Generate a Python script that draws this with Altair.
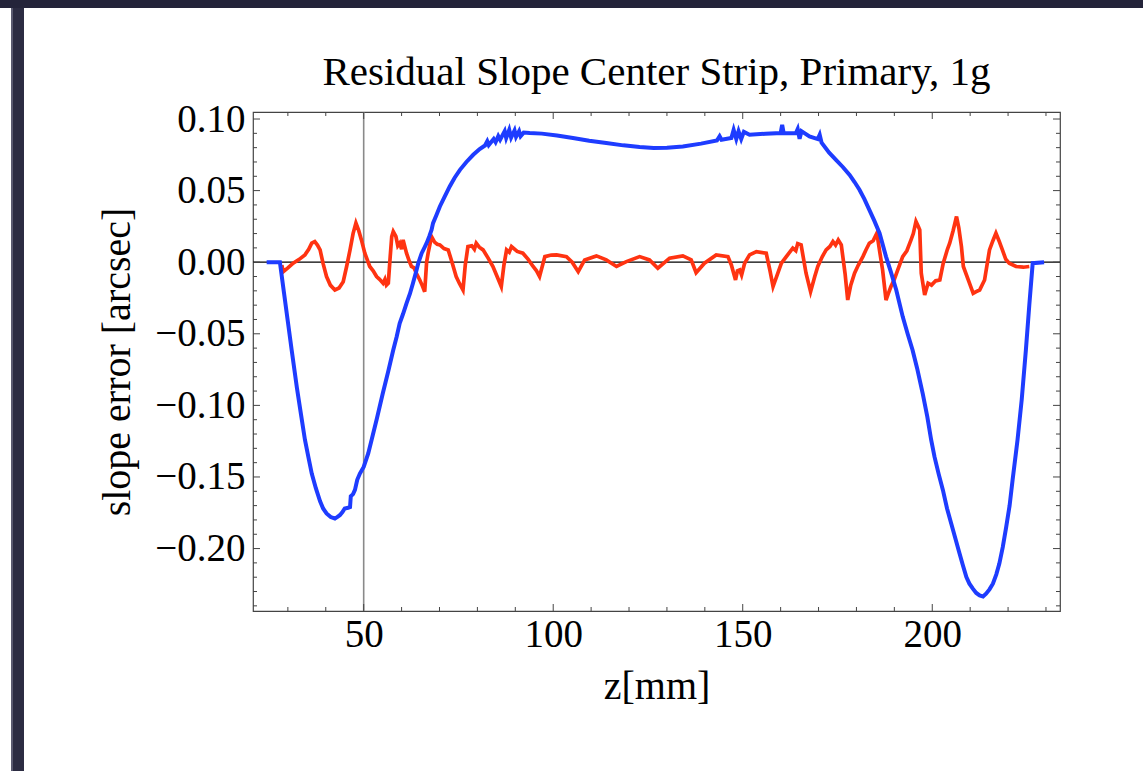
import altair as alt
import pandas as pd

# ---------------- data ----------------
blue_z = [24.4, 27.9, 29.0, 30.0, 31.0, 32.4, 33.5, 34.5, 35.4, 36.3, 37.4, 38.5, 39.3, 40.2, 41.3,
          42.4, 43.0, 43.7, 44.4, 45.0, 45.9, 46.4, 46.6, 47.2, 47.7, 48.3, 49.0, 50.0, 51.2, 52.1,
          53.5, 55.0, 56.5, 57.8, 58.7, 59.5, 60.4, 61.3, 62.2, 63.0, 63.7, 64.4, 65.3, 66.0, 66.6,
          67.3, 67.9, 68.3, 69.2, 70.1, 71.4, 72.7, 74.0, 75.4, 77.1, 78.9, 80.6, 82.0, 82.6, 83.0,
          84.3, 84.8, 85.5, 86.0, 87.2, 87.6, 88.4, 88.9, 89.8, 90.2, 91.0, 91.4, 92.2, 93.8, 97.0,
          101.0, 105.2, 109.5, 114.0, 118.5, 122.8, 126.5, 130.0, 134.2, 139.0, 143.2, 143.9, 144.4,
          147.0, 147.6, 148.3, 148.9, 149.6, 150.3, 151.8, 156.0, 160.0, 160.4, 160.8, 164.0, 164.5,
          165.0, 165.5, 167.6, 169.8, 170.3, 170.8, 172.8, 174.6, 176.4, 178.2, 179.5, 180.8, 182.1,
          183.4, 184.7, 186.1, 187.8, 189.1, 190.5, 192.2, 193.5, 194.8, 196.0, 197.5, 198.7, 199.7,
          200.6, 201.7, 202.8, 203.9, 205.0, 206.1, 207.2, 208.0, 209.0, 209.8, 210.7, 211.6, 212.5,
          213.4, 214.2, 215.1, 216.0, 216.9, 217.7, 218.6, 219.5, 220.4, 221.2, 222.5, 223.6, 224.7,
          225.6, 226.5, 229.5]
blue_v = [0.0, 0.0, -0.0218, -0.0416, -0.0613, -0.088, -0.107, -0.124, -0.136, -0.1476, -0.158,
          -0.167, -0.172, -0.1755, -0.178, -0.179, -0.178, -0.1767, -0.1745, -0.172, -0.1715, -0.171,
          -0.1634, -0.162, -0.159, -0.152, -0.1476, -0.143, -0.1336, -0.124, -0.109, -0.092, -0.076,
          -0.0613, -0.052, -0.0427, -0.036, -0.0287, -0.022, -0.0147, -0.008, -0.0007, 0.0063, 0.010,
          0.0133, 0.018, 0.0226, 0.0273, 0.033, 0.0389, 0.046, 0.0529, 0.059, 0.0645, 0.070, 0.075,
          0.079, 0.0815, 0.0845, 0.0818, 0.0860, 0.0838, 0.0880, 0.0855, 0.0915, 0.0868, 0.0925,
          0.0870, 0.0920, 0.0875, 0.0915, 0.0880, 0.0905, 0.0902, 0.0898, 0.0885, 0.0867, 0.0848,
          0.0832, 0.0816, 0.0804, 0.0797, 0.0800, 0.0808, 0.0828, 0.0850, 0.0880, 0.0855, 0.0868,
          0.0925, 0.0860, 0.0915, 0.0860, 0.0910, 0.0890, 0.0897, 0.0902, 0.0960, 0.0902, 0.0900,
          0.0930, 0.0862, 0.0915, 0.0878, 0.0860, 0.0890, 0.0835, 0.0765, 0.0715, 0.0665, 0.061,
          0.056, 0.0506, 0.044, 0.0366, 0.029, 0.0203, 0.0039, -0.007, -0.0194, -0.038, -0.050,
          -0.0613, -0.074, -0.092, -0.108, -0.124, -0.136, -0.148, -0.159, -0.172, -0.1825, -0.193,
          -0.2035, -0.211, -0.2199, -0.2245, -0.228, -0.231, -0.2327, -0.2335, -0.2315, -0.2285,
          -0.2245, -0.218, -0.2105, -0.199, -0.185, -0.170, -0.152, -0.124, -0.096, -0.0613, -0.030,
          -0.0007, 0.0]

red_z = [28.4, 28.8, 30.0, 31.4, 33.0, 34.5, 35.5, 36.3, 37.1, 37.8, 38.5, 39.3, 40.2, 41.2, 42.4,
         43.5, 44.6, 45.5, 46.4, 47.2, 47.95, 48.7, 49.4, 50.3, 51.6, 52.5, 53.4, 54.2, 55.1, 55.6,
         56.0, 56.5, 57.0, 57.4, 57.8, 58.5, 59.0, 59.5, 60.0, 60.4, 61.3, 62.0, 62.6, 63.3, 63.9,
         64.8, 65.4, 66.1, 66.6, 67.0, 67.9, 68.7, 69.4, 70.1, 71.2, 72.3, 73.3, 74.4, 75.3, 76.2,
         76.8, 77.5, 78.5, 79.2, 79.7, 80.5, 81.5, 82.8, 84.1, 85.2, 86.3, 87.0, 87.7, 88.4, 89.0,
         90.5, 92.0, 93.4, 94.7, 95.6, 96.4, 97.8, 99.5, 100.9, 103.5, 105.0, 106.6, 108.3, 111.4,
         114.0, 116.7, 119.3, 122.8, 125.4, 127.6, 130.7, 134.2, 136.4, 137.7, 139.9, 143.0, 146.1,
         147.0, 148.1, 148.6, 149.2, 149.7, 150.5, 151.8, 153.6, 156.2, 157.2, 158.0, 160.2, 161.8,
         163.2, 164.0, 164.5, 165.4, 166.7, 167.9, 169.0, 169.8, 171.0, 172.0, 173.0, 173.8, 174.5,
         175.2, 176.0, 177.0, 177.7, 178.5, 179.5, 180.5, 181.7, 182.5, 183.4, 184.4, 185.4, 186.1,
         186.9, 187.8, 188.4, 189.1, 190.0, 190.9, 192.2, 193.3, 194.4, 195.0, 195.7, 196.3, 196.7,
         197.1, 198.0, 198.9, 199.8, 200.9, 202.0, 202.9, 204.0, 204.6, 205.5, 206.4, 207.0, 207.7,
         208.2, 209.5, 210.8, 211.6, 212.5, 213.8, 215.1, 216.0, 216.8, 217.6, 218.5, 219.4, 220.3,
         222.1, 224.0, 225.6]
red_v = [-0.002, -0.0066, -0.004, -0.0007, 0.002, 0.0051, 0.009, 0.0133, 0.0144, 0.012, 0.0086,
         -0.001, -0.010, -0.016, -0.0194, -0.018, -0.0136, -0.003, 0.0086, 0.020, 0.0273, 0.022,
         0.0156, 0.0063, -0.003, -0.006, -0.010, -0.012, -0.0147, -0.012, -0.016, -0.0147, 0.004,
         0.0179, 0.0214, 0.018, 0.0115, 0.0133, 0.009, 0.0156, 0.0063, 0.001, -0.003, -0.004, -0.0077,
         -0.0124, -0.016, -0.0206, 0.000, 0.0063, 0.0179, 0.014, 0.0125, 0.0121, 0.0095, 0.0086,
         0.000, -0.010, -0.015, -0.0194, -0.002, 0.0109, 0.0115, 0.0090, 0.0133, 0.0105, 0.0086,
         0.003, -0.003, -0.010, -0.017, -0.002, 0.0086, 0.0070, 0.0109, 0.0075, 0.0063, 0.002,
         -0.003, -0.006, -0.010, 0.0039, 0.005, 0.0051, 0.0039, 0.000, -0.0066, 0.0016, 0.0044,
         0.0016, -0.003, 0.0004, 0.0039, 0.0016, -0.0042, 0.0028, 0.0044, 0.0016, -0.0073, -0.0007,
         0.0051, 0.0039, -0.0019, -0.0124, -0.006, -0.0054, -0.009, -0.0007, 0.0051, 0.0074, 0.0063,
         -0.006, -0.017, -0.0007, 0.005, 0.0098, 0.008, 0.013, 0.0121, -0.0077, -0.0206, -0.010,
         -0.003, 0.004, 0.0086, 0.011, 0.0144, 0.012, 0.0155, 0.0121, -0.008, -0.0264, -0.016,
         -0.0077, -0.002, 0.0039, 0.0085, 0.0133, 0.0150, 0.0203, 0.008, -0.0054, -0.0264, -0.022,
         -0.017, -0.012, -0.0054, 0.0039, 0.008, 0.0156, 0.020, 0.0284, 0.025, 0.0226, -0.0077,
         -0.0229, -0.0147, -0.016, -0.013, -0.0124, -0.0007, 0.009, 0.0133, 0.022, 0.0319, 0.024,
         0.0109, -0.003, -0.0124, -0.0217, -0.0205, -0.0194, -0.0124, 0.0086, 0.015, 0.0203, 0.015,
         0.0086, 0.002, -0.0007, -0.003, -0.0035, -0.003]

x_major = [50, 100, 150, 200]
x_minor = [30, 40, 60, 70, 80, 90, 110, 120, 130, 140, 160, 170, 180, 190, 210, 220, 230]
y_major = [-0.20, -0.15, -0.10, -0.05, 0.00, 0.05, 0.10]
y_minor = [-0.24, -0.23, -0.22, -0.21, -0.19, -0.18, -0.17, -0.16, -0.14, -0.13, -0.12, -0.11,
           -0.09, -0.08, -0.07, -0.06, -0.04, -0.03, -0.02, -0.01, 0.01, 0.02, 0.03, 0.04,
           0.06, 0.07, 0.08, 0.09]
grid_x = [50]
zero_y = [0.0]

title_text = "Residual Slope Center Strip, Primary, 1g"
x_title = "z[mm]"
y_title = "slope error [arcsec]"

# ---------------- layout ----------------
W, H = 807, 499
PAD = {"left": 253, "top": 112, "right": 83, "bottom": 160}
FONT = "Liberation Serif"
xs = alt.Scale(domain=[20.8, 233.7], nice=False, zero=False)
ys = alt.Scale(domain=[-0.2436, 0.1049], nice=False, zero=False)
TICK = "#444444"
MAJ, MIN = 7, 4

blue_df = pd.DataFrame({"z": blue_z, "v": blue_v})
red_df = pd.DataFrame({"z": red_z, "v": red_v})

x_axis = alt.Axis(values=x_major, format="d", ticks=False, domain=False, grid=False,
                  labelFont=FONT, labelFontSize=39, labelColor="black", labelPadding=4,
                  title=x_title, titleFont=FONT, titleFontSize=40, titleFontWeight="normal",
                  titleColor="black", titleBaseline="alphabetic", titleY=87)
y_axis = alt.Axis(values=y_major, format=".2f", ticks=False, domain=False, grid=False,
                  labelFont=FONT, labelFontSize=39, labelColor="black", labelPadding=8,
                  title=y_title, titleFont=FONT, titleFontSize=40, titleFontWeight="normal",
                  titleColor="black", titleBaseline="alphabetic", titleX=-124)


def X(field="z"):
    return alt.X(f"{field}:Q", scale=xs, axis=x_axis)


def Y(field="v"):
    return alt.Y(f"{field}:Q", scale=ys, axis=y_axis)


grid = alt.Chart(pd.DataFrame({"z": grid_x})).mark_rule(color="#8a8a8a", strokeWidth=1.6).encode(
    x=X(), y=alt.value(0), y2=alt.value(H))
zero = alt.Chart(pd.DataFrame({"v": zero_y})).mark_rule(color="black", strokeWidth=1.2).encode(
    y=Y(), x=alt.value(0), x2=alt.value(W))

red = alt.Chart(red_df).mark_line(color="#ff3311", strokeWidth=3.7, strokeJoin="miter").encode(
    x=X(), y=Y(), order="z:Q")
blue = alt.Chart(blue_df).mark_line(color="#1e3cff", strokeWidth=4, strokeJoin="miter").encode(
    x=X(), y=Y(), order="z:Q")


def xticks(vals, length):
    d = pd.DataFrame({"z": vals})
    bottom = alt.Chart(d).mark_rule(color=TICK, strokeWidth=1).encode(
        x=X(), y=alt.value(H), y2=alt.value(H - length))
    top = alt.Chart(d).mark_rule(color=TICK, strokeWidth=1).encode(
        x=X(), y=alt.value(0), y2=alt.value(length))
    return [bottom, top]


def yticks(vals, length):
    d = pd.DataFrame({"v": vals})
    left = alt.Chart(d).mark_rule(color=TICK, strokeWidth=1).encode(
        y=Y(), x=alt.value(0), x2=alt.value(length))
    right = alt.Chart(d).mark_rule(color=TICK, strokeWidth=1).encode(
        y=Y(), x=alt.value(W - length), x2=alt.value(W))
    return [left, right]


ticks = xticks(x_major, MAJ) + xticks(x_minor, MIN) + yticks(y_major, MAJ) + yticks(y_minor, MIN)

# window chrome (dark bands at top and left of the screenshot)
one = alt.Data(values=[{"k": 1}])
top_band = alt.Chart(one).mark_rect(color="#24243a").encode(
    x=alt.value(-253), x2=alt.value(W + 83), y=alt.value(-112), y2=alt.value(-104))
left_band = alt.Chart(one).mark_rect(color="#2c2c42").encode(
    x=alt.value(-242), x2=alt.value(-229), y=alt.value(-104), y2=alt.value(H + 160))
left_edge = alt.Chart(one).mark_rect(color="#5a5a70").encode(
    x=alt.value(-242), x2=alt.value(-240), y=alt.value(-104), y2=alt.value(H + 160))

chart = alt.layer(grid, zero, red, blue, *ticks, top_band, left_band, left_edge).properties(
    width=W, height=H,
    title=alt.TitleParams(title_text, font=FONT, fontSize=41, fontWeight="normal", color="black",
                          anchor="middle", frame="group", baseline="alphabetic", offset=23, dy=149),
    autosize=alt.AutoSizeParams(type="none"),
    padding=PAD,
    background="white",
).configure_view(stroke="#444444", strokeWidth=1.2)

chart.save("out.html", embed_options={"renderer": "svg", "actions": False})
